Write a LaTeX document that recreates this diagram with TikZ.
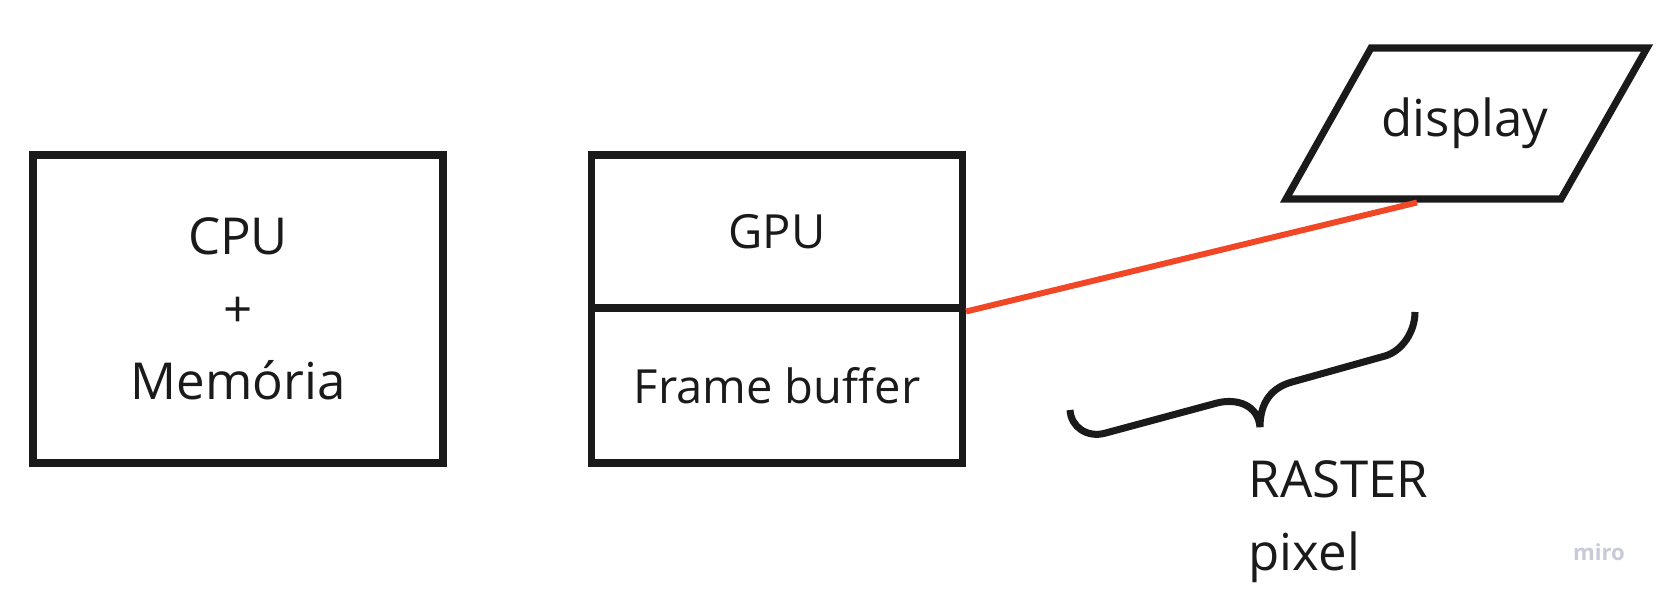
\documentclass[tikz,border=0pt]{standalone}
\usepackage{fontspec}
\setmainfont{Open Sans}
\definecolor{inkblack}{HTML}{1A1A1A}
\definecolor{linkred}{HTML}{F24726}
\definecolor{logogray}{HTML}{C9CAD9}
\tikzset{
    every node/.style={text=inkblack, font=\fontsize{13.4}{18}\selectfont}
}
\tikzset{
    box/.style={draw=inkblack, line width=2pt, inner sep=0pt}
}
\tikzset{
    every edge/.append style={draw=linkred, line width=1.7pt}
}
\tikzset{
    bracestroke/.style={draw=inkblack, line width=2pt}
}

\begin{document}
\begin{tikzpicture}
  \useasboundingbox (0cm, 0cm) rectangle (16.65cm, 6cm);

  \node (cpu) [box, minimum width=4.1cm, minimum height=3.08cm, align=center,
    font=\fontsize{14.5}{20.6}\selectfont] at (2.38cm, 2.91cm)
    {CPU\\+\\Memória};
  \node (gpu) [box, minimum width=3.71cm, minimum height=1.53cm]
    at (7.77cm, 3.685cm) {GPU};
  \node (fb) [box, minimum width=3.71cm, minimum height=1.55cm]
    at (7.77cm, 2.145cm) {Frame buffer};
  \node (disp) [font=\fontsize{14.5}{20}\selectfont] at (14.65cm, 4.765cm)
    {display};
  \node (raster) [anchor=north west, align=left, inner sep=0pt,
    font=\fontsize{14.5}{20.8}\selectfont] at (12.48cm, 1.4cm)
    {RASTER\\pixel};
  \node (logo) [anchor=base, text=logogray,
    font=\fontsize{6.3}{7}\selectfont\bfseries] at (15.99cm, 0.4cm) {miro};
  \coordinate (dispbase) at (14.17cm, 3.975cm);

  % display outline
  \draw [box] (12.86, 4.01) -- (15.61, 4.01) -- (16.47, 5.52) -- (13.71, 5.52) -- cycle;

  \draw (gpu.south east) edge (dispbase);

  % brace over the raster
  \draw [bracestroke] (10.7, 1.9) .. controls (10.71, 1.73) and (10.87, 1.62) .. (11.05, 1.668)
    -- (12.17, 1.97) .. controls (12.37, 2.02) and (12.58, 1.95) .. (12.6, 1.73)
    .. controls (12.6, 1.98) and (12.72, 2.125) .. (12.92, 2.18)
    -- (13.85, 2.44) .. controls (14.02, 2.49) and (14.15, 2.68) .. (14.15, 2.88);
\end{tikzpicture}
\end{document}
